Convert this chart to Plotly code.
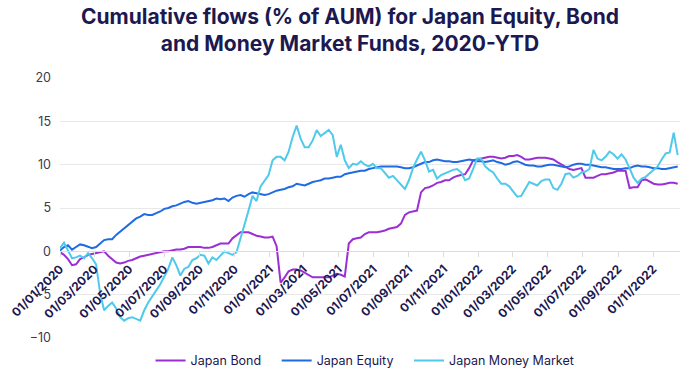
import pandas as pd
import plotly.graph_objects as go

dates = pd.date_range("2020-01-01", "2022-12-14", freq="7D")

japan_bond = [
    -0.1, -0.4, -0.9, -1.6, -1.5, -0.9, -0.7, -0.4, -0.3, -0.2,
    -0.1, 0.0, -0.5, -0.9, -1.3, -1.4, -1.3, -1.1, -1.0, -0.8,
    -0.6, -0.5, -0.4, -0.3, -0.2, -0.1, 0.0, 0.0, 0.1, 0.2,
    0.2, 0.3, 0.5, 0.5, 0.5, 0.5, 0.4, 0.4, 0.5, 0.7,
    0.9, 0.9, 0.9, 1.5, 1.9, 2.2, 2.2, 2.2, 2.0, 1.8,
    1.7, 1.6, 1.6, 1.7, 0.6, -3.6, -3.0, -2.3, -2.1, -2.1,
    -2.2, -2.5, -2.8, -3.0, -3.0, -3.0, -3.0, -3.0, -2.8, -2.6,
    -2.7, -2.9, 0.9, 1.4, 1.5, 1.6, 2.0, 2.2, 2.2, 2.2,
    2.3, 2.4, 2.6, 2.7, 2.8, 3.2, 4.2, 4.5, 4.6, 4.7,
    6.8, 7.3, 7.4, 7.6, 7.9, 8.0, 8.2, 8.2, 8.5, 8.7,
    8.8, 8.9, 9.6, 10.5, 10.6, 10.7, 10.8, 10.9, 10.9, 10.8,
    10.7, 10.8, 11.0, 11.0, 11.1, 10.9, 10.6, 10.6, 10.7, 10.8,
    10.8, 10.8, 10.7, 10.6, 10.3, 10.0, 9.7, 9.5, 9.4, 9.5,
    9.6, 8.5, 8.5, 8.5, 8.7, 8.9, 8.9, 9.0, 9.1, 9.3,
    9.3, 9.3, 7.3, 7.4, 7.4, 8.2, 8.3, 8.0, 7.8, 7.7,
    7.7, 7.8, 7.9, 7.9, 7.8,
]

japan_equity = [
    0.1, 0.5, 0.7, 0.2, 0.5, 0.8, 0.7, 0.5, 0.35, 0.5,
    0.9, 1.3, 1.4, 1.4, 1.9, 2.3, 2.7, 3.1, 3.4, 3.8,
    4.0, 4.3, 4.2, 4.2, 4.4, 4.6, 4.9, 5.0, 5.2, 5.3,
    5.5, 5.7, 5.8, 5.6, 5.5, 5.6, 5.7, 5.8, 5.9, 6.1,
    6.0, 6.1, 5.8, 6.2, 6.4, 6.5, 6.3, 6.6, 6.8, 6.7,
    6.6, 6.5, 6.6, 6.8, 7.0, 7.1, 7.2, 7.4, 7.5, 7.8,
    7.7, 7.6, 7.8, 8.0, 8.1, 8.2, 8.4, 8.4, 8.5, 8.6,
    8.6, 8.9, 9.0, 9.1, 9.2, 9.3, 9.3, 9.5, 9.6, 9.7,
    9.8, 9.8, 9.8, 9.8, 9.8, 9.7, 9.6, 9.6, 9.7, 9.9,
    10.1, 10.3, 10.3, 10.5, 10.6, 10.5, 10.4, 10.4, 10.3, 10.3,
    10.4, 10.5, 10.6, 10.5, 10.4, 10.4, 10.3, 10.4, 10.5, 10.3,
    10.2, 10.0, 10.1, 10.3, 10.4, 10.2, 10.0, 9.9, 9.9, 9.8,
    9.8, 9.9, 10.0, 10.0, 9.9, 9.8, 9.7, 9.8, 10.0, 10.1,
    10.1, 10.0, 10.0, 9.9, 9.8, 9.7, 9.7, 9.6, 9.5, 9.5,
    9.5, 9.6, 9.6, 9.8, 9.9, 9.8, 9.8, 9.7, 9.6, 9.6,
    9.5, 9.5, 9.6, 9.7, 9.8,
]

japan_money_market = [
    0.35, 1.0, 0.1, -0.8, -0.7, -0.5, -0.8, -0.2, -0.8, -1.5,
    -4.8, -6.8, -6.3, -5.9, -6.6, -7.6, -8.0, -7.7, -7.6, -7.8,
    -8.0, -6.8, -5.9, -5.2, -4.5, -3.8, -2.9, -2.0, -0.7, -1.6,
    -2.8, -2.0, -1.8, -1.0, -0.8, -0.4, -0.5, -1.4, -0.7, -1.0,
    -0.5, 0.0, -0.2, -0.4, -0.1, 1.5, 2.8, 4.7, 6.4, 5.8,
    7.5, 8.1, 8.8, 10.5, 10.9, 10.9, 10.5, 11.5, 13.2, 14.5,
    13.0, 12.0, 12.0, 12.8, 14.0, 13.3, 13.7, 14.0, 13.4, 10.9,
    12.3, 10.5, 9.6, 10.1, 10.0, 10.4, 10.0, 9.8, 10.1, 9.6,
    9.6, 9.0, 8.5, 8.7, 8.2, 7.6, 7.2, 8.2, 9.6, 10.6,
    11.5, 10.5, 9.2, 9.4, 8.4, 8.8, 9.0, 9.2, 9.4, 9.5,
    9.1, 8.2, 8.4, 9.5, 10.7, 10.7, 9.8, 9.4, 9.1, 8.4,
    7.8, 7.8, 7.5, 6.9, 6.3, 6.4, 7.2, 8.0, 7.8, 7.6,
    8.1, 8.3, 8.3, 7.3, 7.1, 7.8, 8.9, 9.0, 8.5, 8.7,
    9.1, 9.2, 9.5, 11.7, 10.7, 10.5, 10.9, 11.5, 11.2, 10.7,
    11.2, 10.6, 9.6, 8.5, 7.9, 8.4, 8.6, 9.0, 9.4, 9.8,
    10.6, 11.3, 11.4, 13.7, 11.1,
]

series_names = ["Japan Bond", "Japan Equity", "Japan Money Market"]
series_colors = ["#9b2fd4", "#1f6be3", "#4fc9ec"]
series_values = [japan_bond, japan_equity, japan_money_market]
legend_pad = ["\u00a0\u00a0\u00a0", "\u00a0\u00a0\u00a0", ""]

y_min, y_max = -10, 20
navy = "#1c1850"

fig = go.Figure()
for name, color, vals, pad in zip(series_names, series_colors, series_values, legend_pad):
    fig.add_trace(go.Scatter(
        x=dates, y=vals, mode="lines", name=name + pad,
        line=dict(color=color, width=2),
    ))

fig.update_layout(
    width=700, height=378,
    margin=dict(l=60, r=20, t=78, b=40, autoexpand=False),
    paper_bgcolor="white", plot_bgcolor="white",
    title=dict(
        text="<b>Cumulative flows (% of AUM) for Japan Equity, Bond<br>and Money Market Funds, 2020-YTD</b>",
        x=0.5, xanchor="center", xref="container", yref="container", y=0.937, yanchor="top",
        font=dict(family="Inter", size=21, color=navy),
    ),
    showlegend=True,
    legend=dict(
        orientation="h", x=0.492, xanchor="center", y=-0.088, yanchor="middle",
        font=dict(family="Inter", size=12.5, color=navy),
        itemwidth=30,
    ),
    xaxis=dict(
        type="date",
        range=["2020-01-01", "2022-12-18"],
        anchor="free", position=(0 - y_min) / (y_max - y_min),
        tick0="2020-01-01", dtick="M2", tickformat="%d/%m/%Y",
        tickangle=-45, automargin=False,
        tickfont=dict(family="Inter", size=12, color=navy, weight="bold"),
        showgrid=False, showline=True, linecolor="#dcdcdc", linewidth=1,
        ticks="outside", ticklen=5, tickcolor="#dcdcdc",
        zeroline=False,
    ),
    yaxis=dict(
        range=[y_min, y_max], dtick=5, automargin=False,
        showgrid=True, gridcolor="#e8e8e8", gridwidth=1,
        zeroline=False, showline=False,
        tickfont=dict(family="Inter", size=12.5, color="#3a3a4a"),
        ticks="", ticklabelstandoff=8,
    ),
)

fig.write_html(
    "out.html",
    config={"displayModeBar": False},
    post_script="document.body.style.margin='0';",
)
